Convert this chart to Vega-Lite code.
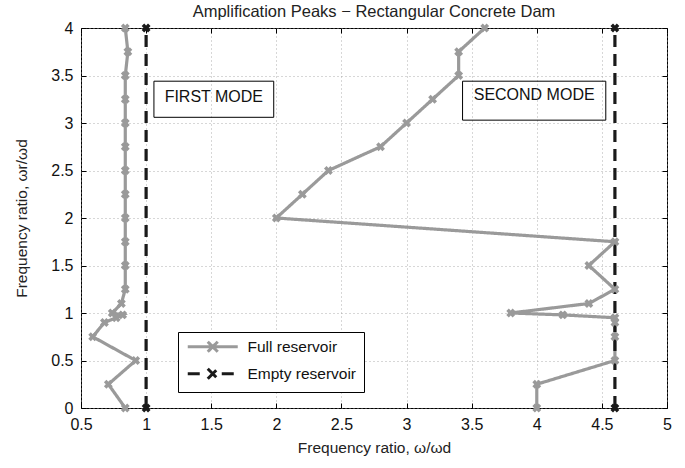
{
  "$schema": "https://vega.github.io/schema/vega-lite/v6.json",
  "width": 586,
  "height": 380,
  "autosize": {"type": "none"},
  "padding": {"left": 81, "top": 28, "right": 18, "bottom": 60},
  "background": "white",
  "title": {"text": "Amplification Peaks − Rectangular Concrete Dam", "fontSize": 16.5, "fontWeight": "normal", "font": "Liberation Sans", "color": "#222", "offset": 0},
  "config": {
    "view": {"stroke": "black", "strokeWidth": 1},
    "axis": {
      "labelFont": "Liberation Sans", "labelFontSize": 16, "labelColor": "#111", "labelFlush": false,
      "titleFont": "Liberation Sans", "titleFontSize": 15.5, "titleFontWeight": "normal", "titleColor": "#222",
      "domain": false, "tickColor": "black", "tickSize": -5, "tickWidth": 1,
      "gridColor": "#999", "gridDash": [1, 3], "gridWidth": 0.8
    }
  },
  "datasets": {
    "lines": [
      {"series": "Full reservoir", "mode": 1, "i": 0, "x": 0.84, "y": 4},
      {"series": "Full reservoir", "mode": 1, "i": 1, "x": 0.86, "y": 3.75},
      {"series": "Full reservoir", "mode": 1, "i": 2, "x": 0.84, "y": 3.5},
      {"series": "Full reservoir", "mode": 1, "i": 3, "x": 0.84, "y": 3.25},
      {"series": "Full reservoir", "mode": 1, "i": 4, "x": 0.84, "y": 3},
      {"series": "Full reservoir", "mode": 1, "i": 5, "x": 0.84, "y": 2.75},
      {"series": "Full reservoir", "mode": 1, "i": 6, "x": 0.84, "y": 2.5},
      {"series": "Full reservoir", "mode": 1, "i": 7, "x": 0.84, "y": 2.25},
      {"series": "Full reservoir", "mode": 1, "i": 8, "x": 0.84, "y": 2},
      {"series": "Full reservoir", "mode": 1, "i": 9, "x": 0.84, "y": 1.75},
      {"series": "Full reservoir", "mode": 1, "i": 10, "x": 0.84, "y": 1.5},
      {"series": "Full reservoir", "mode": 1, "i": 11, "x": 0.84, "y": 1.25},
      {"series": "Full reservoir", "mode": 1, "i": 12, "x": 0.81, "y": 1.1},
      {"series": "Full reservoir", "mode": 1, "i": 13, "x": 0.74, "y": 1.0},
      {"series": "Full reservoir", "mode": 1, "i": 14, "x": 0.82, "y": 0.98},
      {"series": "Full reservoir", "mode": 1, "i": 15, "x": 0.77, "y": 0.95},
      {"series": "Full reservoir", "mode": 1, "i": 16, "x": 0.68, "y": 0.9},
      {"series": "Full reservoir", "mode": 1, "i": 17, "x": 0.59, "y": 0.75},
      {"series": "Full reservoir", "mode": 1, "i": 18, "x": 0.92, "y": 0.5},
      {"series": "Full reservoir", "mode": 1, "i": 19, "x": 0.71, "y": 0.25},
      {"series": "Full reservoir", "mode": 1, "i": 20, "x": 0.84, "y": 0},
      {"series": "Full reservoir", "mode": 2, "i": 0, "x": 3.6, "y": 4},
      {"series": "Full reservoir", "mode": 2, "i": 1, "x": 3.4, "y": 3.75},
      {"series": "Full reservoir", "mode": 2, "i": 2, "x": 3.4, "y": 3.5},
      {"series": "Full reservoir", "mode": 2, "i": 3, "x": 3.2, "y": 3.25},
      {"series": "Full reservoir", "mode": 2, "i": 4, "x": 3.0, "y": 3},
      {"series": "Full reservoir", "mode": 2, "i": 5, "x": 2.8, "y": 2.75},
      {"series": "Full reservoir", "mode": 2, "i": 6, "x": 2.4, "y": 2.5},
      {"series": "Full reservoir", "mode": 2, "i": 7, "x": 2.2, "y": 2.25},
      {"series": "Full reservoir", "mode": 2, "i": 8, "x": 2.0, "y": 2},
      {"series": "Full reservoir", "mode": 2, "i": 9, "x": 4.6, "y": 1.75},
      {"series": "Full reservoir", "mode": 2, "i": 10, "x": 4.4, "y": 1.5},
      {"series": "Full reservoir", "mode": 2, "i": 11, "x": 4.6, "y": 1.25},
      {"series": "Full reservoir", "mode": 2, "i": 12, "x": 4.4, "y": 1.1},
      {"series": "Full reservoir", "mode": 2, "i": 13, "x": 3.8, "y": 1.0},
      {"series": "Full reservoir", "mode": 2, "i": 14, "x": 4.2, "y": 0.98},
      {"series": "Full reservoir", "mode": 2, "i": 15, "x": 4.6, "y": 0.95},
      {"series": "Full reservoir", "mode": 2, "i": 16, "x": 4.6, "y": 0.9},
      {"series": "Full reservoir", "mode": 2, "i": 17, "x": 4.6, "y": 0.75},
      {"series": "Full reservoir", "mode": 2, "i": 18, "x": 4.6, "y": 0.5},
      {"series": "Full reservoir", "mode": 2, "i": 19, "x": 4.0, "y": 0.25},
      {"series": "Full reservoir", "mode": 2, "i": 20, "x": 4.0, "y": 0},
      {"series": "Empty reservoir", "mode": 1, "i": 0, "x": 1, "y": 0},
      {"series": "Empty reservoir", "mode": 1, "i": 1, "x": 1, "y": 4},
      {"series": "Empty reservoir", "mode": 2, "i": 0, "x": 4.6, "y": 0},
      {"series": "Empty reservoir", "mode": 2, "i": 1, "x": 4.6, "y": 4}
    ],
    "boxes": [
      {"label": "FIRST MODE", "x1": 1.06, "x2": 1.98, "y1": 3.44, "y2": 3.06, "tx": 1.52, "ty": 3.27},
      {"label": "SECOND MODE", "x1": 3.43, "x2": 4.53, "y1": 3.44, "y2": 3.03, "tx": 3.98, "ty": 3.29}
    ]
  },
  "layer": [
    {
      "data": {"name": "boxes"},
      "mark": {"type": "rect", "fill": "transparent", "stroke": "black", "strokeWidth": 1},
      "encoding": {
        "x": {"field": "x1", "type": "quantitative", "scale": {"domain": [0.5, 5], "nice": false}, "axis": {"orient": "top", "labels": false, "title": null, "grid": false, "values": [0.5, 1, 1.5, 2, 2.5, 3, 3.5, 4, 4.5, 5]}},
        "x2": {"field": "x2"},
        "y": {"field": "y1", "type": "quantitative", "scale": {"domain": [0, 4], "nice": false}, "axis": {"orient": "right", "labels": false, "title": null, "grid": false, "values": [0, 0.5, 1, 1.5, 2, 2.5, 3, 3.5, 4]}},
        "y2": {"field": "y2"}
      }
    },
    {
      "layer": [
        {
          "data": {"name": "boxes"},
          "mark": {"type": "text", "font": "Liberation Sans", "fontSize": 16, "color": "#111"},
          "encoding": {
            "x": {"field": "tx", "type": "quantitative", "title": "Frequency ratio, ω/ωd", "scale": {"domain": [0.5, 5], "nice": false},
              "axis": {"orient": "bottom", "values": [0.5, 1, 1.5, 2, 2.5, 3, 3.5, 4, 4.5, 5], "format": "~g", "grid": true, "labelPadding": 13, "titlePadding": 8}},
            "y": {"field": "ty", "type": "quantitative", "title": "Frequency ratio, ωr/ωd", "scale": {"domain": [0, 4], "nice": false},
              "axis": {"orient": "left", "values": [0, 0.5, 1, 1.5, 2, 2.5, 3, 3.5, 4], "format": "~g", "grid": true, "labelPadding": 13, "titlePadding": 21}},
            "text": {"field": "label"}
          }
        },
        {
          "data": {"name": "lines"},
          "mark": {"type": "line", "strokeWidth": 3.2},
          "encoding": {
            "x": {"field": "x", "type": "quantitative", "title": "Frequency ratio, ω/ωd"},
            "y": {"field": "y", "type": "quantitative", "title": "Frequency ratio, ωr/ωd"},
            "detail": {"field": "mode"},
            "order": {"field": "i"},
            "color": {"field": "series", "type": "nominal",
              "scale": {"domain": ["Full reservoir", "Empty reservoir"], "range": ["#9a9a9a", "#1a1a1a"]},
              "legend": {"title": null, "orient": "none", "legendX": 97, "legendY": 304, "strokeColor": "black", "fillColor": "white", "padding": 7,
                "labelFont": "Liberation Sans", "labelFontSize": 15.5, "labelColor": "#111", "labelLimit": 300, "labelOffset": 47,
                "symbolSize": 100, "symbolStrokeWidth": 3, "rowPadding": 4,
                "encode": {"symbols": {"update": {"shape": {"signal": "datum.value === 'Full reservoir' ? 'M-1,0H9M3,-1L5,1M3,1L5,-1' : 'M-1,0H2.2M5.8,0H9M3,-1L5,1M3,1L5,-1'"}}}}}
            },
            "strokeDash": {"field": "series", "type": "nominal", "scale": {"domain": ["Full reservoir", "Empty reservoir"], "range": [[1, 0], [12, 7]]}, "legend": null}
          }
        },
        {
          "data": {"name": "lines"},
          "mark": {"type": "point", "shape": "cross", "angle": 45, "filled": true, "size": 80, "opacity": 1},
          "encoding": {
            "x": {"field": "x", "type": "quantitative", "title": "Frequency ratio, ω/ωd"},
            "y": {"field": "y", "type": "quantitative", "title": "Frequency ratio, ωr/ωd"},
            "color": {"field": "series", "type": "nominal", "scale": {"domain": ["Full reservoir", "Empty reservoir"], "range": ["#9a9a9a", "#1a1a1a"]}, "legend": null}
          }
        }
      ]
    }
  ],
  "resolve": {"axis": {"x": "independent", "y": "independent"}}
}
